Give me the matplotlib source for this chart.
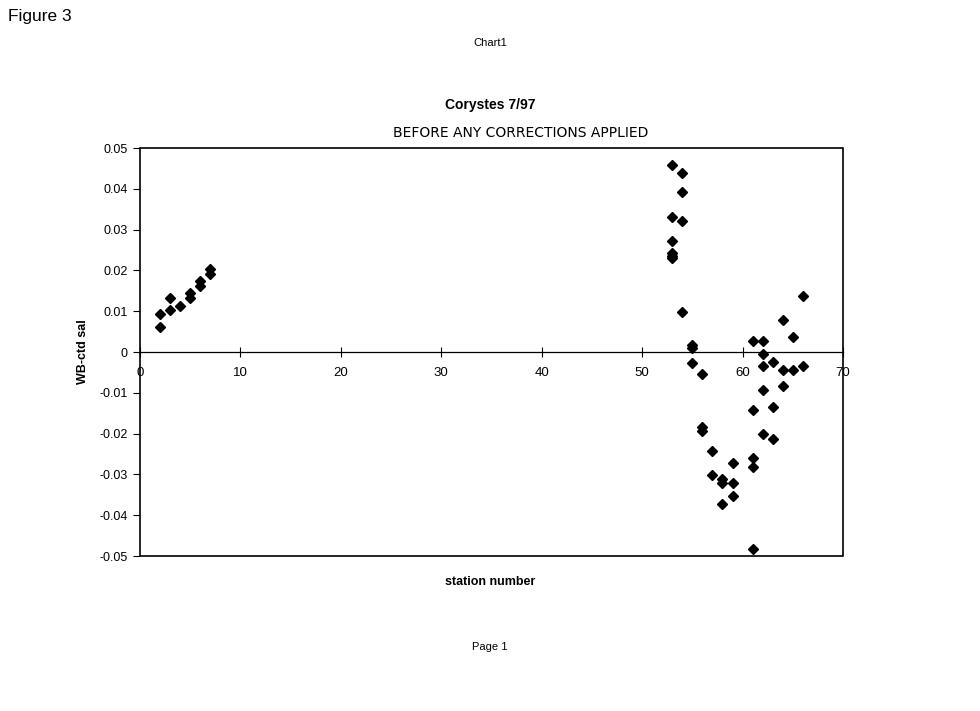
import matplotlib
matplotlib.use('Agg')
import matplotlib.pyplot as plt
from matplotlib.patches import Rectangle

# station number vs WB-ctd salinity difference
station = [2, 2, 3, 3, 4, 5, 5, 6, 6, 7, 7,
           53, 53, 53, 53, 53, 53,
           54, 54, 54, 54,
           55, 55, 55,
           56, 56, 56,
           57, 57,
           58, 58, 58,
           59, 59, 59,
           61, 61, 61, 61, 61,
           62, 62, 62, 62, 62,
           63, 63, 63,
           64, 64, 64,
           65, 65,
           66, 66]
wb_ctd = [0.0062, 0.0093, 0.0103, 0.0133, 0.0113, 0.0144, 0.0132, 0.0174, 0.0162, 0.0203, 0.0191,
          0.0458, 0.0332, 0.0271, 0.0242, 0.0236, 0.0231,
          0.0438, 0.0391, 0.0321, 0.0099,
          0.0018, 0.0010, -0.0026,
          -0.0054, -0.0184, -0.0194,
          -0.0243, -0.0302,
          -0.0312, -0.0322, -0.0372,
          -0.0273, -0.0322, -0.0352,
          0.0028, -0.0143, -0.0260, -0.0281, -0.0482,
          0.0028, -0.0004, -0.0035, -0.0094, -0.0202,
          -0.0025, -0.0134, -0.0213,
          0.0078, -0.0045, -0.0084,
          0.0037, -0.0045,
          0.0138, -0.0035]

xticks = [0, 10, 20, 30, 40, 50, 60, 70]
yticks = [-0.05, -0.04, -0.03, -0.02, -0.01, 0, 0.01, 0.02, 0.03, 0.04, 0.05]
ylabels = ['-0.05', '-0.04', '-0.03', '-0.02', '-0.01', '0', '0.01', '0.02', '0.03', '0.04', '0.05']

plt.rcParams['font.family'] = ['Liberation Sans', 'DejaVu Sans']

fig = plt.figure(figsize=(9.8, 7.11), dpi=100)
ax = fig.add_axes([0.1429, 0.218, 0.7173, 0.5738])

ax.plot(station, wb_ctd, 'D', color='black', ms=5, mec='black', clip_on=False)

ax.set_xlim(0, 70)
ax.set_ylim(-0.05, 0.05)

# x axis crosses at zero, Excel style; frame drawn separately
for s in ['top', 'right', 'left']:
    ax.spines[s].set_visible(False)
ax.spines['bottom'].set_position(('data', 0))
ax.spines['bottom'].set_linewidth(0.9)
ax.add_patch(Rectangle((0, 0), 1, 1, transform=ax.transAxes, fill=False,
                       lw=1.2, ec='black', clip_on=False))

ax.set_xticks(xticks)
ax.set_xticklabels([str(t) for t in xticks], fontsize=9.5)
ax.set_yticks(yticks)
ax.set_yticklabels(ylabels, fontsize=9)
ax.tick_params(axis='x', direction='inout', length=7, width=0.8, pad=7)
ax.tick_params(axis='y', direction='out', length=5, width=0.8, pad=4)

ax.set_ylabel('WB-ctd sal', fontsize=9, fontweight='bold')
ax.yaxis.set_label_coords(-0.073, 0.5)
fig.text(0.5, 1 - 582 / 711, 'station number', ha='center', va='center',
         fontsize=9, fontweight='bold')

fig.text(0.5, 1 - 105 / 711, 'Corystes 7/97', ha='center', va='center',
         fontsize=10, fontweight='bold')
# handwritten note on the scan
fig.text(0.531, 1 - 133 / 711, 'BEFORE ANY CORRECTIONS APPLIED', ha='center', va='center',
         fontsize=10, color='black', family=['DejaVu Sans'])

fig.text(0.008, 1 - 17 / 711, 'Figure 3', ha='left', va='center', fontsize=12.5)
fig.text(0.5, 1 - 43 / 711, 'Chart1', ha='center', va='center', fontsize=8)
fig.text(0.5, 1 - 647 / 711, 'Page 1', ha='center', va='center', fontsize=8)

fig.savefig('out.png', dpi=100)
